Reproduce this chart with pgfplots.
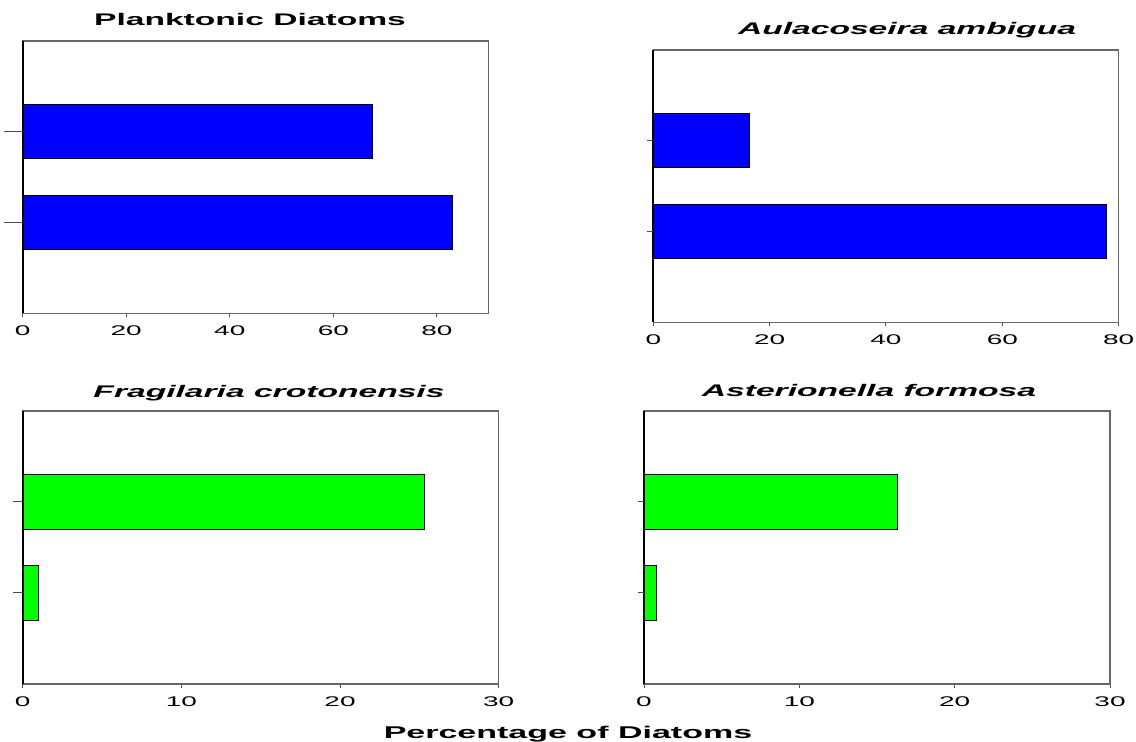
\documentclass[border=0pt]{standalone}
\usepackage{pgfplots}
\pgfplotsset{compat=1.18}
\usepackage{fontspec}
\newfontfamily\wide[FakeStretch=2.0]{Liberation Sans}
\definecolor{barblue}{RGB}{0,0,255}
\definecolor{bargreen}{RGB}{0,255,0}
\pgfplotsset{
  panel/.style={
    scale only axis, anchor=south west, xbar, bar width=0.6,
    ymin=0, ymax=3, ytick=\empty, xmin=0, clip=false,
    tick align=outside, major tick length=2pt, xtick pos=bottom,
    axis line style={black!60, line width=0.8pt},
    xtick style={black!70, line width=0.5pt},
    x tick label style={font=\wide\fontsize{7}{8}\selectfont,
      /pgf/number format/assume math mode=true,
      anchor=base, inner sep=0pt, yshift=-9pt},
  },
}
\begin{document}
\begin{tikzpicture}[x=1pt,y=1pt]
\path[use as bounding box] (0,0) rectangle (568,370.5);
% Panel 1
\begin{axis}[panel, at={(11.35pt,213.85pt)}, width=233pt, height=136.3pt,
  xmax=90, xtick={0,20,40,60,80}]
\addplot[fill=barblue, draw=black, line width=0.4pt] coordinates {(83.0,1) (67.6,2)};
\draw[black, line width=1pt] (rel axis cs:0,0) -- (rel axis cs:0,1);
\draw[black!70, line width=0.5pt] (axis cs:0,1) -- ++(-9.2pt,0);
\draw[black!70, line width=0.5pt] (axis cs:0,2) -- ++(-9.2pt,0);
\end{axis}
% Panel 2
\begin{axis}[panel, at={(326.65pt,209.35pt)}, width=232.7pt, height=136.3pt,
  xmax=80, xtick={0,20,40,60,80}]
\addplot[fill=barblue, draw=black, line width=0.4pt] coordinates {(77.9,1) (16.5,2)};
\draw[black, line width=1pt] (rel axis cs:0,0) -- (rel axis cs:0,1);
\draw[black!70, line width=0.5pt] (axis cs:0,1) -- ++(-3.3pt,0);
\draw[black!70, line width=0.5pt] (axis cs:0,2) -- ++(-3.3pt,0);
\end{axis}
% Panel 3
\begin{axis}[panel, at={(11.35pt,28.5pt)}, width=238pt, height=136.65pt,
  xmax=30, xtick={0,10,20,30}]
\addplot[fill=bargreen, draw=black, line width=0.4pt] coordinates {(1.0,1) (25.3,2)};
\draw[black, line width=1pt] (rel axis cs:0,0) -- (rel axis cs:0,1);
\draw[black!70, line width=0.5pt] (axis cs:0,1) -- ++(-5pt,0);
\draw[black!70, line width=0.5pt] (axis cs:0,2) -- ++(-5pt,0);
\end{axis}
% Panel 4
\begin{axis}[panel, at={(322pt,28.5pt)}, width=233pt, height=136.65pt,
  xmax=30, xtick={0,10,20,30}]
\addplot[fill=bargreen, draw=black, line width=0.4pt] coordinates {(0.82,1) (16.3,2)};
\draw[black, line width=1pt] (rel axis cs:0,0) -- (rel axis cs:0,1);
\draw[black!70, line width=0.5pt] (axis cs:0,1) -- ++(-3pt,0);
\draw[black!70, line width=0.5pt] (axis cs:0,2) -- ++(-3pt,0);
\end{axis}
% Titles
\node[anchor=base, inner sep=0pt, font=\wide\bfseries\fontsize{8.4}{10}\selectfont] at (125,357.5) {Planktonic Diatoms};
\node[anchor=base, inner sep=0pt, font=\wide\bfseries\itshape\fontsize{8.4}{10}\selectfont] at (453.5,353.3) {Aulacoseira ambigua};
\node[anchor=base, inner sep=0pt, font=\wide\bfseries\itshape\fontsize{8.4}{10}\selectfont] at (134.5,171.85) {Fragilaria crotonensis};
\node[anchor=base, inner sep=0pt, font=\wide\bfseries\itshape\fontsize{8.4}{10}\selectfont] at (434.5,172.15) {Asterionella formosa};
\node[anchor=base, inner sep=0pt, font=\wide\bfseries\fontsize{8.5}{10}\selectfont] at (284,1.2) {Percentage of Diatoms};
\end{tikzpicture}
\end{document}
